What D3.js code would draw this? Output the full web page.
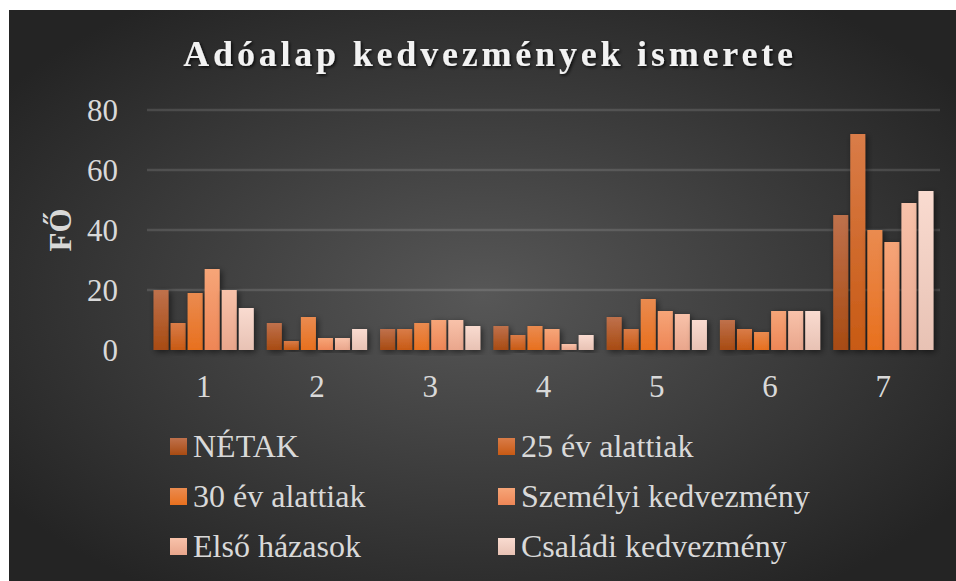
<!DOCTYPE html>
<html>
<head>
<meta charset="utf-8">
<script src="https://cdn.jsdelivr.net/npm/d3@7"></script>
<style>
  body { margin: 0; background: #fff; }
  svg { display: block; }
</style>
</head>
<body>
<svg id="chart" width="956" height="581"></svg>
<script>
// data
const categories = ['1', '2', '3', '4', '5', '6', '7'];
const seriesNames = ['NÉTAK', '25 év alattiak', '30 év alattiak', 'Személyi kedvezmény', 'Első házasok', 'Családi kedvezmény'];
const netak     = [20, 9, 7, 8, 11, 10, 45];
const ev25      = [9, 3, 7, 5, 7, 7, 72];
const ev30      = [19, 11, 9, 8, 17, 6, 40];
const szemelyi  = [27, 4, 10, 7, 13, 13, 36];
const elso      = [20, 4, 10, 2, 12, 13, 49];
const csaladi   = [14, 7, 8, 5, 10, 13, 53];
const yTicks = [0, 20, 40, 60, 80];

const seriesValues = [netak, ev25, ev30, szemelyi, elso, csaladi];

// gradient stops per series (top, bottom)
const colors = [
    ['#bf714c', '#a84b12'],
    ['#d97c48', '#c85a14'],
    ['#ea8b50', '#e8701e'],
    ['#f6a578', '#ee8656'],
    ['#f8c2aa', '#e9a68c'],
    ['#f9dbd0', '#e8c2b4']
];

const W = 956, H = 581;
const svg = d3.select('#chart');
const defs = svg.append('defs');

// background gradient
const bg = defs.append('radialGradient').attr('id', 'bg')
    .attr('cx', '50%').attr('cy', '50%').attr('r', '62%');
bg.append('stop').attr('offset', '0%').attr('stop-color', '#575757');
bg.append('stop').attr('offset', '100%').attr('stop-color', '#242424');

colors.forEach((c, i) => {
    const g = defs.append('linearGradient').attr('id', 'g' + i)
        .attr('x1', 0).attr('y1', 0).attr('x2', 0).attr('y2', 1);
    g.append('stop').attr('offset', '0%').attr('stop-color', c[0]);
    g.append('stop').attr('offset', '100%').attr('stop-color', c[1]);
});

const shadow = defs.append('filter').attr('id', 'shadow')
    .attr('x', '-50%').attr('y', '-20%').attr('width', '200%').attr('height', '140%');
shadow.append('feDropShadow').attr('dx', 2).attr('dy', 2)
    .attr('stdDeviation', 3).attr('flood-color', '#000').attr('flood-opacity', 0.55);

const tshadow = defs.append('filter').attr('id', 'tshadow')
    .attr('x', '-10%').attr('y', '-30%').attr('width', '120%').attr('height', '160%');
tshadow.append('feDropShadow').attr('dx', 1.5).attr('dy', 1.5)
    .attr('stdDeviation', 1.5).attr('flood-color', '#000').attr('flood-opacity', 0.8);

svg.append('rect').attr('x', 9).attr('y', 10).attr('width', W - 9).attr('height', H - 10)
    .attr('fill', 'url(#bg)');

const plot = { left: 147, right: 940, top: 110, bottom: 350 };

const x0 = d3.scaleBand().domain(categories)
    .range([plot.left, plot.right]).paddingInner(0.115).paddingOuter(0.0575);
const x1 = d3.scaleBand().domain(d3.range(seriesNames.length))
    .range([0, x0.bandwidth()]).paddingInner(0.12);
const y = d3.scaleLinear().domain([0, 80]).range([plot.bottom, plot.top]);

// gridlines
svg.append('g').selectAll('line').data(yTicks.filter(d => d > 0)).join('line')
    .attr('x1', plot.left).attr('x2', plot.right)
    .attr('y1', d => y(d)).attr('y2', d => y(d))
    .attr('stroke', 'rgba(255,255,255,0.13)').attr('stroke-width', 2.5);

// y tick labels
svg.append('g').selectAll('text').data(yTicks).join('text')
    .attr('x', 118).attr('y', d => y(d) + 11)
    .attr('text-anchor', 'end')
    .attr('font-family', 'Liberation Serif, Times New Roman, serif')
    .attr('font-size', 31).attr('fill', '#d9d9d9')
    .text(d => d);

// bars
const groups = svg.append('g').selectAll('g').data(categories).join('g')
    .attr('transform', d => `translate(${x0(d)},0)`);
groups.selectAll('rect')
    .data((d, ci) => seriesValues.map((vals, si) => ({ si, v: vals[ci] })))
    .join('rect')
    .attr('x', d => x1(d.si))
    .attr('width', x1.bandwidth())
    .attr('y', d => y(d.v))
    .attr('height', d => y(0) - y(d.v))
    .attr('fill', d => `url(#g${d.si})`)
    .attr('filter', 'url(#shadow)');

// axis base line
svg.append('line')
    .attr('x1', plot.left).attr('x2', plot.right)
    .attr('y1', plot.bottom + 1).attr('y2', plot.bottom + 1)
    .attr('stroke', 'rgba(215,215,215,0.75)').attr('stroke-width', 3.5)
    .attr('filter', 'url(#shadow)');

// x tick labels
svg.append('g').selectAll('text').data(categories).join('text')
    .attr('x', d => x0(d) + x0.bandwidth() / 2).attr('y', 397)
    .attr('text-anchor', 'middle')
    .attr('font-family', 'Liberation Serif, Times New Roman, serif')
    .attr('font-size', 31).attr('fill', '#d9d9d9')
    .text(d => d);

// y axis title
svg.append('text')
    .attr('transform', 'translate(71,230) rotate(-90)')
    .attr('text-anchor', 'middle')
    .attr('font-family', 'Liberation Serif, Times New Roman, serif')
    .attr('font-weight', 'bold')
    .attr('font-size', 31).attr('fill', '#d9d9d9')
    .text('FŐ');

// title
svg.append('text')
    .attr('x', 490).attr('y', 66)
    .attr('text-anchor', 'middle')
    .attr('font-family', 'Liberation Serif, Times New Roman, serif')
    .attr('font-weight', 'bold')
    .attr('font-size', 36).attr('letter-spacing', 3.8)
    .attr('fill', '#f2f2f2')
    .attr('filter', 'url(#tshadow)')
    .text('Adóalap kedvezmények ismerete');

// legend
const legend = svg.append('g').selectAll('g').data(seriesNames).join('g')
    .attr('transform', (d, i) => `translate(${i % 2 === 0 ? 170 : 498},${438 + Math.floor(i / 2) * 50})`);
legend.append('rect')
    .attr('width', 17).attr('height', 17)
    .attr('fill', (d, i) => `url(#g${i})`);
legend.append('text')
    .attr('x', 23).attr('y', 19)
    .attr('font-family', 'Liberation Serif, Times New Roman, serif')
    .attr('font-size', 32).attr('fill', '#d9d9d9')
    .text(d => d);
</script>
</body>
</html>
